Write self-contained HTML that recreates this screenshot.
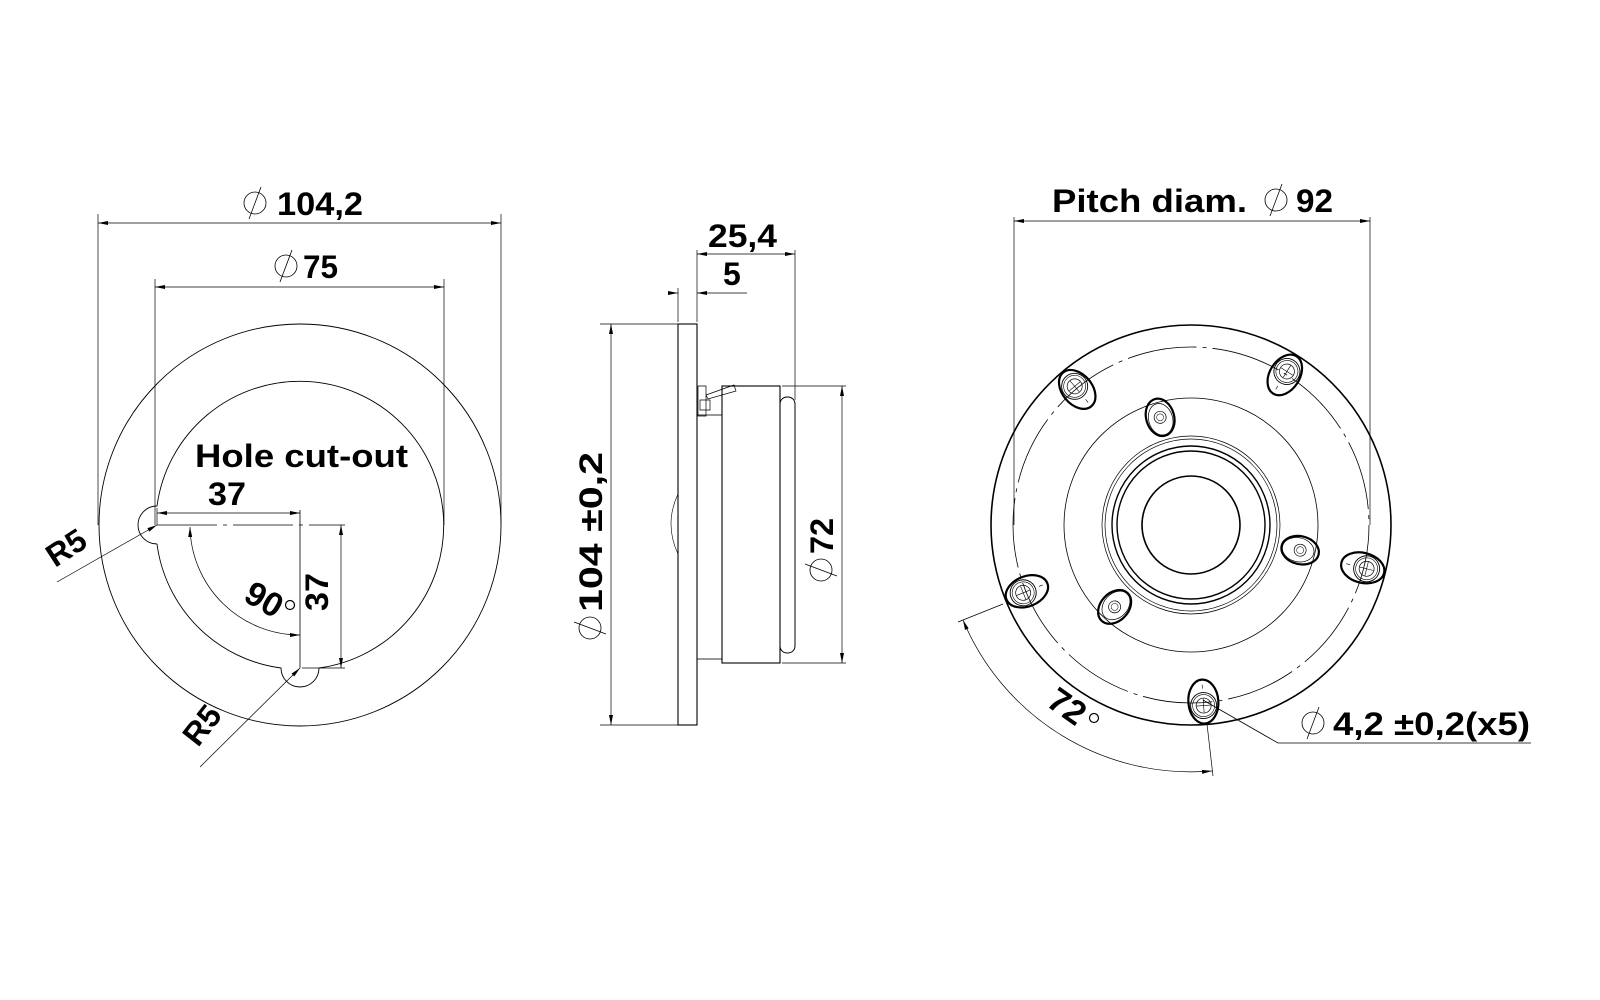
<!DOCTYPE html>
<html><head><meta charset="utf-8"><style>
html,body{margin:0;padding:0;background:#fff;width:1600px;height:1000px;overflow:hidden}
svg{display:block}
text{font-family:"Liberation Sans",sans-serif;font-weight:bold;fill:#000}
</style></head><body>
<svg width="1600" height="1000" viewBox="0 0 1600 1000" xmlns="http://www.w3.org/2000/svg">
<defs>
<marker id="a" viewBox="0 0 10 4" refX="10" refY="2" markerWidth="10" markerHeight="4" orient="auto-start-reverse" markerUnits="userSpaceOnUse"><path d="M0,0 L10,2 L0,4z" fill="#000"/></marker>
<g id="dia"><circle cx="0" cy="0" r="11" fill="none" stroke="#000" stroke-width="0.8"/><line x1="-6" y1="16" x2="6" y2="-16" stroke="#000" stroke-width="0.8"/></g>
<g id="hole"><ellipse cx="0" cy="0" rx="22" ry="15" fill="none" stroke="#000" stroke-width="2.2"/><circle cx="4" cy="0" r="13" fill="none" stroke="#000" stroke-width="0.9"/><circle cx="4" cy="0" r="11" fill="none" stroke="#000" stroke-width="0.6"/><circle cx="4" cy="0" r="7.5" fill="none" stroke="#000" stroke-width="0.7"/><line x1="-3" y1="0" x2="11" y2="0" stroke="#000" stroke-width="0.6"/><line x1="4" y1="-7" x2="4" y2="7" stroke="#000" stroke-width="0.6"/><line x1="-17" y1="0" x2="-13" y2="0" stroke="#000" stroke-width="0.6"/></g>
<g id="scr"><ellipse cx="0" cy="0" rx="19" ry="14" fill="none" stroke="#000" stroke-width="2.2"/><ellipse cx="-2" cy="0" rx="16" ry="12" fill="none" stroke="#000" stroke-width="0.7"/><circle cx="0" cy="0" r="6" fill="none" stroke="#000" stroke-width="0.7"/><circle cx="0" cy="0" r="3.5" fill="none" stroke="#000" stroke-width="0.5"/></g>
</defs>
<g fill="none" stroke="#000" stroke-width="0.9">
<circle cx="300" cy="525" r="201"/>
<path d="M157,544 A144,144 0 0 0 281,668 A19,19 0 0 0 319,668 A144,144 0 1 0 157,506 A19,19 0 0 0 157,544"/>
<line x1="98" y1="214" x2="98" y2="525" stroke-width="0.7"/>
<line x1="501" y1="214" x2="501" y2="525" stroke-width="0.7"/>
<line x1="98" y1="223" x2="501" y2="223" stroke-width="0.7" marker-start="url(#a)" marker-end="url(#a)"/>
<line x1="155" y1="279" x2="155" y2="525" stroke-width="0.7"/>
<line x1="444" y1="279" x2="444" y2="525" stroke-width="0.7"/>
<line x1="155" y1="287" x2="444" y2="287" stroke-width="0.7" marker-start="url(#a)" marker-end="url(#a)"/>
<line x1="157" y1="513" x2="300" y2="513" stroke-width="0.7" marker-start="url(#a)" marker-end="url(#a)"/>
<line x1="157" y1="508" x2="157" y2="525" stroke-width="0.7"/>
<line x1="157" y1="525" x2="345" y2="525" stroke-width="0.8" stroke-dasharray="60,6,4,6"/>
<line x1="300" y1="510" x2="300" y2="668" stroke-width="0.8"/>
<line x1="341" y1="525" x2="341" y2="668" stroke-width="0.7" marker-start="url(#a)" marker-end="url(#a)"/>
<line x1="302" y1="668" x2="345" y2="668" stroke-width="0.7"/>
<path d="M190,527 A110,110 0 0 0 300,635" stroke-width="0.7" marker-start="url(#a)" marker-end="url(#a)"/>
<line x1="157" y1="525" x2="57" y2="582" stroke-width="0.7" marker-start="url(#a)"/>
<line x1="300" y1="668" x2="200" y2="767" stroke-width="0.7" marker-start="url(#a)"/>
<rect x="678" y="324" width="19" height="401" stroke-width="1.1"/>
<path d="M678,494 Q664,524 678,554" stroke-width="0.6"/>
<rect x="697" y="415" width="25" height="244" stroke-width="0.8"/>
<rect x="722" y="386" width="58" height="277" stroke-width="1.1"/>
<rect x="780" y="397" width="15" height="256" rx="7" stroke-width="1"/>
<path d="M698,386 h8 v30 h-8z M706,395 l28,-10 l2,6 l-28,8z M700,400 h10 v10 h-10z" stroke-width="0.7"/>
<line x1="611" y1="324" x2="611" y2="725" stroke-width="0.7" marker-start="url(#a)" marker-end="url(#a)"/>
<line x1="600" y1="324" x2="678" y2="324" stroke-width="0.7"/>
<line x1="600" y1="725" x2="678" y2="725" stroke-width="0.7"/>
<line x1="697" y1="250" x2="697" y2="322" stroke-width="0.7"/>
<line x1="795" y1="250" x2="795" y2="400" stroke-width="0.7"/>
<line x1="697" y1="254" x2="795" y2="254" stroke-width="0.7" marker-start="url(#a)" marker-end="url(#a)"/>
<line x1="678" y1="288" x2="678" y2="322" stroke-width="0.7"/>
<line x1="668" y1="293" x2="678" y2="293" stroke-width="0.7" marker-end="url(#a)"/>
<line x1="747" y1="293" x2="697" y2="293" stroke-width="0.7" marker-end="url(#a)"/>
<line x1="782" y1="386" x2="846" y2="386" stroke-width="0.7"/>
<line x1="782" y1="663" x2="846" y2="663" stroke-width="0.7"/>
<line x1="842" y1="386" x2="842" y2="663" stroke-width="0.7" marker-start="url(#a)" marker-end="url(#a)"/>
<circle cx="1191" cy="525" r="200" stroke-width="1.6"/>
<circle cx="1191" cy="525" r="178" stroke-width="0.8" stroke-dasharray="70,6,4,6"/>
<circle cx="1191" cy="525" r="127" stroke-width="0.8"/>
<circle cx="1191" cy="525" r="89" stroke-width="0.7"/>
<circle cx="1191" cy="525" r="86" stroke-width="0.7"/>
<circle cx="1191" cy="525" r="79" stroke-width="1.4"/>
<circle cx="1191" cy="525" r="74" stroke-width="1.4"/>
<circle cx="1191" cy="525" r="49" stroke-width="1.6"/>
<line x1="1014" y1="217" x2="1014" y2="525" stroke-width="0.7"/>
<line x1="1370" y1="217" x2="1370" y2="525" stroke-width="0.7"/>
<line x1="1014" y1="221" x2="1370" y2="221" stroke-width="0.7" marker-start="url(#a)" marker-end="url(#a)"/>
<path d="M963,620 A247,247 0 0 0 1212,771" stroke-width="0.7" marker-start="url(#a)" marker-end="url(#a)"/>
<line x1="1003" y1="604" x2="958" y2="622" stroke-width="0.7"/>
<line x1="1207" y1="724" x2="1213" y2="776" stroke-width="0.7"/>
<polyline points="1203,700 1278,743 1531,743" stroke-width="0.8"/>
</g>
<g transform="translate(1191,525)">
<g transform="rotate(86) translate(177,0)"><use href="#hole"/></g>
<g transform="rotate(14) translate(177,0)"><use href="#hole"/></g>
<g transform="rotate(-58) translate(177,0)"><use href="#hole"/></g>
<g transform="rotate(-130) translate(177,0)"><use href="#hole"/></g>
<g transform="rotate(158) translate(177,0)"><use href="#hole"/></g>
<g transform="rotate(-106) translate(112,0)"><use href="#scr"/></g>
<g transform="rotate(13) translate(112,0)"><use href="#scr"/></g>
<g transform="rotate(133) translate(112,0)"><use href="#scr"/></g>
</g>
<use href="#dia" x="255" y="203"/>
<text x="277" y="215" font-size="32" textLength="86" lengthAdjust="spacingAndGlyphs">104,2</text>
<use href="#dia" x="286" y="266"/>
<text x="303" y="278" font-size="32" textLength="35" lengthAdjust="spacingAndGlyphs">75</text>
<text x="195" y="467" font-size="32" textLength="213" lengthAdjust="spacingAndGlyphs">Hole cut-out</text>
<text x="208" y="505" font-size="32" textLength="38" lengthAdjust="spacingAndGlyphs">37</text>
<text transform="translate(328,611) rotate(-90)" font-size="32" textLength="38" lengthAdjust="spacingAndGlyphs">37</text>
<text transform="translate(242,600) rotate(30)" font-size="34">90</text>
<circle cx="290" cy="605" r="4.5" fill="none" stroke="#000" stroke-width="1.2"/>
<text transform="translate(55,568) rotate(-33)" font-size="32">R5</text>
<text transform="translate(198,748) rotate(-52)" font-size="32">R5</text>
<text x="708" y="247" font-size="32" textLength="69" lengthAdjust="spacingAndGlyphs">25,4</text>
<text x="723" y="285" font-size="32">5</text>
<g transform="translate(602,620) rotate(-90)"><use href="#dia" x="-8" y="-12"/><text x="8" y="0" font-size="32" textLength="160" lengthAdjust="spacingAndGlyphs">104 ±0,2</text></g>
<g transform="translate(833,560) rotate(-90)"><use href="#dia" x="-10" y="-12"/><text x="6" y="0" font-size="32" textLength="36" lengthAdjust="spacingAndGlyphs">72</text></g>
<text x="1052" y="212" font-size="32" textLength="195" lengthAdjust="spacingAndGlyphs">Pitch diam.</text>
<use href="#dia" x="1276" y="200"/>
<text x="1296" y="212" font-size="32" textLength="37" lengthAdjust="spacingAndGlyphs">92</text>
<use href="#dia" x="1313" y="723"/>
<text x="1333" y="735" font-size="32" textLength="197" lengthAdjust="spacingAndGlyphs">4,2 ±0,2(x5)</text>
<text transform="translate(1045,705) rotate(35)" font-size="34">72</text>
<circle cx="1094" cy="718" r="4.5" fill="none" stroke="#000" stroke-width="1.2"/>
</svg>
</body></html>
